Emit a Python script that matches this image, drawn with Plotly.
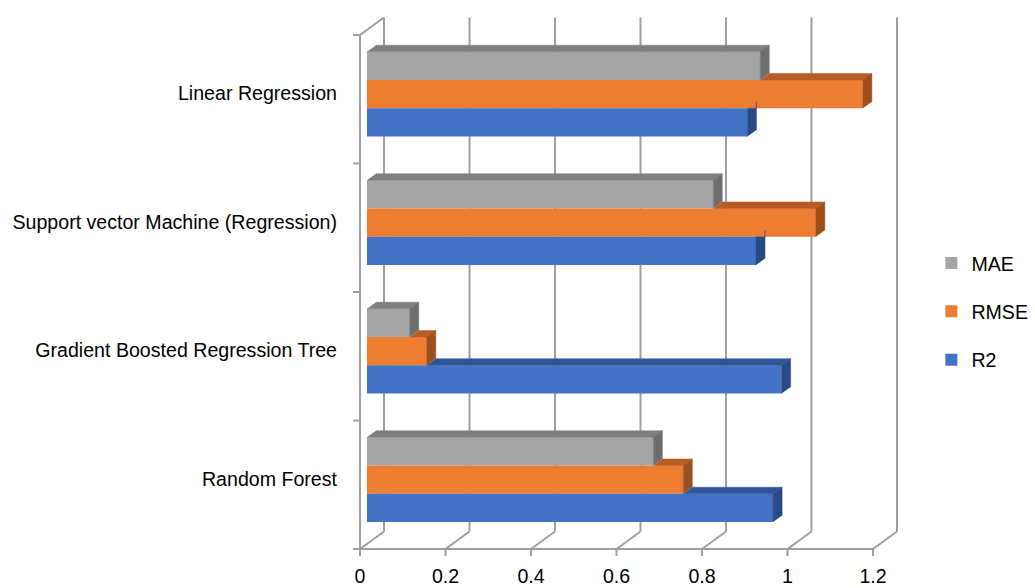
import plotly.graph_objects as go

# ---- data -------------------------------------------------------------
categories = [
    "Random Forest",
    "Gradient Boosted Regression Tree",
    "Support vector Machine (Regression)",
    "Linear Regression",
]
mae = [0.67, 0.10, 0.81, 0.92]
rmse = [0.74, 0.14, 1.05, 1.16]
r2 = [0.95, 0.97, 0.91, 0.89]

x_ticks = [0, 0.2, 0.4, 0.6, 0.8, 1.0, 1.2]
x_tick_text = ["0", "0.2", "0.4", "0.6", "0.8", "1", "1.2"]

# series listed top-to-bottom inside each group (legend order)
series = [
    ("MAE", mae, "#A5A5A5", "#7F7F7F", "#6E6E6E"),
    ("RMSE", rmse, "#ED7D31", "#B65C24", "#9C4F1F"),
    ("R2", r2, "#4472C4", "#30549A", "#2A4A85"),
]

# ---- pseudo-3D geometry (data units: x = value, y = category index) ---
PX_PER_X = 427.5          # pixels per 1.0 on the value axis
PX_PER_Y = 128.5          # pixels per category band
DEPTH_X = 24 / PX_PER_X   # floor depth, projected sideways
DEPTH_Y = 17.5 / PX_PER_Y  # floor depth, projected upwards
FRONT = 0.29              # depth fraction where bar fronts sit
BAR_DEPTH = 0.375         # depth fraction occupied by a bar
BAR_H = 0.22              # bar thickness in category units
TICK_X = 7 / PX_PER_X
TICK_Y = 7 / PX_PER_Y

LINE = dict(color="#9E9E9E", width=2)
FONT = dict(family="Liberation Sans, Arial, sans-serif", size=19.6, color="#000000")

y_lo, y_hi = -0.5, len(categories) - 0.5
x_max = x_ticks[-1]

fig = go.Figure()

# walls, floor and axis lines, drawn underneath the bars
shapes = []


def seg(x0, y0, x1, y1):
    shapes.append(dict(type="line", xref="x", yref="y", x0=x0, y0=y0,
                       x1=x1, y1=y1, line=LINE, layer="below"))


for t in x_ticks:
    seg(t + DEPTH_X, y_lo + DEPTH_Y, t + DEPTH_X, y_hi + DEPTH_Y)  # back wall
    seg(t, y_lo, t + DEPTH_X, y_lo + DEPTH_Y)                      # floor
    seg(t, y_lo, t, y_lo - TICK_Y)                                 # tick mark
seg(0, y_lo, x_max, y_lo)                       # floor front edge
seg(0, y_lo, 0, y_hi)                           # side wall front edge
seg(0, y_hi, DEPTH_X, y_hi + DEPTH_Y)           # side wall top edge
for k in range(len(categories) + 1):
    b = y_lo + k
    seg(-TICK_X, b, 0, b)                       # category boundary ticks

# bar geometry
ax0 = FRONT * DEPTH_X
ay0 = FRONT * DEPTH_Y
bx = BAR_DEPTH * DEPTH_X
by = BAR_DEPTH * DEPTH_Y
n_series = len(series)

# front faces
for idx, (name, vals, front, top, side) in enumerate(series):
    j = n_series - 1 - idx  # 0 = lowest bar in the group
    ys = [i + (j - 1) * BAR_H + ay0 for i in range(len(categories))]
    fig.add_trace(go.Bar(
        x=vals, y=ys, base=ax0, orientation="h", width=BAR_H,
        name=name, legendgroup=name,
        marker=dict(color=front, line=dict(width=0)),
        hovertext=categories,
        hovertemplate="%{hovertext}<br>" + name + ": %{x}<extra></extra>",
    ))

# top and side faces (only the parts not hidden by the bar above)
for idx, (name, vals, front, top, side) in enumerate(series):
    j = n_series - 1 - idx
    above = series[idx - 1][1] if idx > 0 else None
    tx, ty, sx, sy = [], [], [], []
    for i, v in enumerate(vals):
        yb = i + (j - 1) * BAR_H - BAR_H / 2 + ay0
        yt = yb + BAR_H
        left = ax0 + (above[i] if above is not None else 0)
        right = ax0 + v
        if right > left:
            tx += [left, right, right + bx, left + bx, None]
            ty += [yt, yt, yt + by, yt + by, None]
        if above is None:
            u = v
        else:
            u = min(max(above[i], v), v + bx)
        sx += [ax0 + v, ax0 + v, ax0 + u, ax0 + u, ax0 + v + bx, ax0 + v + bx, None]
        sy += [yb, yt, yt, yt + (u - v) * by / bx, yt + by, yb + by, None]
    for xs, ysf, col in ((tx, ty, top), (sx, sy, side)):
        fig.add_trace(go.Scatter(
            x=xs, y=ysf, mode="lines", fill="toself", fillcolor=col,
            line=dict(color=col, width=0.5), showlegend=False,
            hoverinfo="skip",
        ))

# ---- layout -----------------------------------------------------------
L, R, T, B = 340, 125, 8, 32
W, H = 1035, 588
x_left = -(360 - L) / PX_PER_X
x_right = x_left + (W - L - R) / PX_PER_X
y_bottom = y_lo - (556 - 549) / PX_PER_Y
y_top = y_bottom + (H - T - B) / PX_PER_Y

fig.update_layout(
    template="none",
    width=W, height=H, autosize=False,
    margin=dict(l=L, r=R, t=T, b=B, autoexpand=False),
    paper_bgcolor="white", plot_bgcolor="white",
    font=FONT,
    barmode="overlay",
    showlegend=True,
    legend=dict(
        x=1.0375, xanchor="left", y=0.57, yanchor="top",
        font=FONT, tracegroupgap=20, bgcolor="rgba(0,0,0,0)",
        itemclick=False, itemdoubleclick=False,
    ),
    xaxis=dict(
        range=[x_left, x_right], showgrid=False, zeroline=False,
        showline=False, ticks="", tickvals=x_ticks, ticktext=x_tick_text,
        ticklabelstandoff=6, automargin=False, fixedrange=True,
    ),
    yaxis=dict(
        range=[y_bottom, y_top], showgrid=False, zeroline=False,
        showline=False, ticks="",
        tickvals=[i + 0.045 for i in range(len(categories))],
        ticktext=categories, ticklabelstandoff=2,
        automargin=False, fixedrange=True,
    ),
    shapes=shapes,
)

fig.write_html("out.html")
